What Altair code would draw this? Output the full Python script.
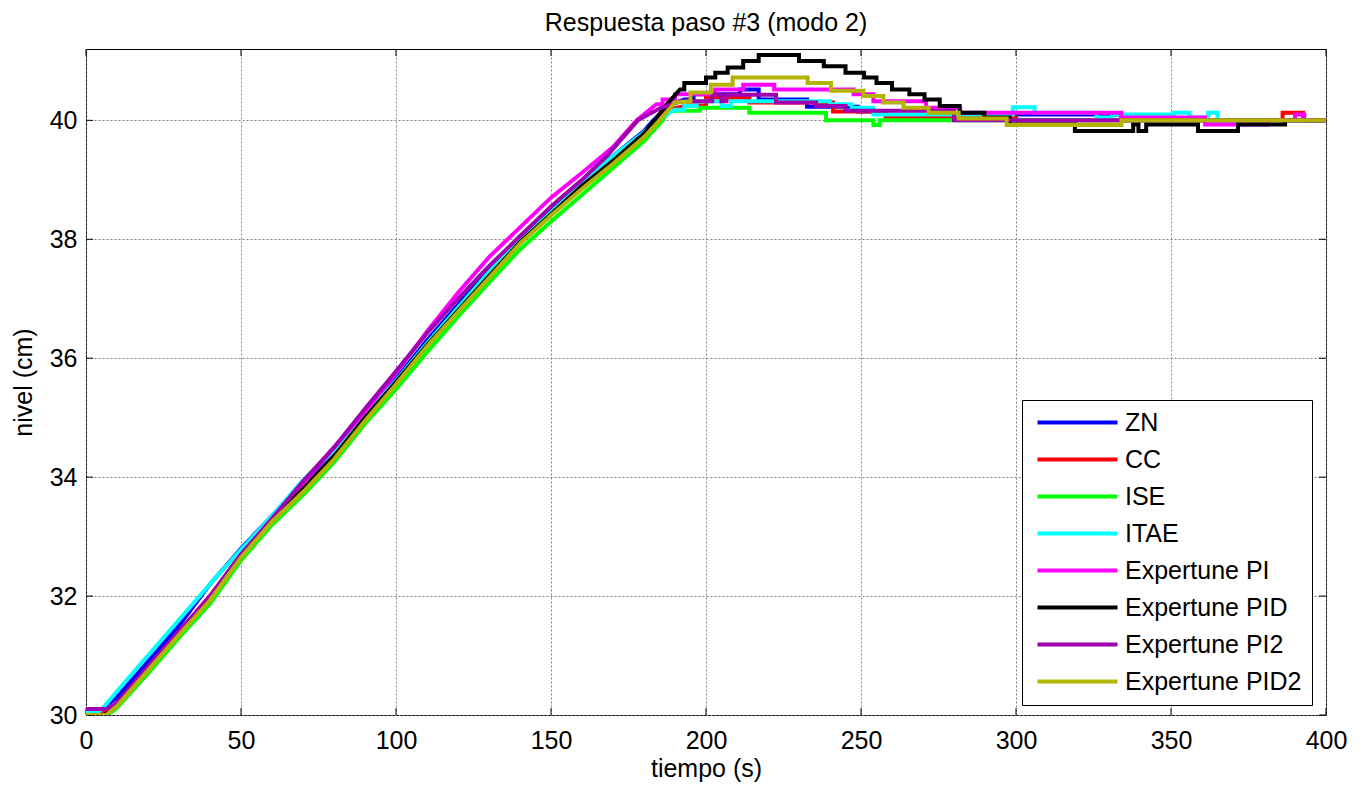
import altair as alt
import pandas as pd

series_names = ["ZN", "CC", "ISE", "ITAE", "Expertune PI", "Expertune PID",
                "Expertune PI2", "Expertune PID2"]
series_colors = ["#0000FF", "#FF0000", "#00FF00", "#00FFFF", "#FF00FF",
                 "#000000", "#A000B0", "#B3B300"]

x_ticks = [0, 50, 100, 150, 200, 250, 300, 350, 400]
y_ticks = [30, 32, 34, 36, 38, 40]

t_zn = [0, 5, 10, 20, 30, 40, 50, 60, 70, 80, 90, 100, 110, 120, 130, 140, 150, 160, 170, 180,
        183, 188, 193, 196, 196, 211, 211, 217, 217, 232.6, 232.6, 249, 249, 258, 258, 300, 300,
        334, 334, 400]
v_zn = [30.1, 30.1, 30.3, 30.9, 31.5, 32.2, 32.8, 33.35, 33.9, 34.45, 35.05, 35.65, 36.3, 36.9,
        37.5, 38.05, 38.5, 38.95, 39.4, 39.82, 40.0, 40.25, 40.35, 40.35, 40.44, 40.44, 40.52,
        40.52, 40.35, 40.35, 40.23, 40.23, 40.15, 40.15, 40.07, 40.07, 40.1, 40.1, 40.0, 40.0]

t_cc = [0, 6, 10, 20, 30, 40, 50, 60, 70, 80, 90, 100, 110, 120, 130, 140, 150, 160, 170, 180,
        184, 188, 194, 200, 200, 214, 214, 241, 241, 258, 258, 300, 300, 386, 386, 392.6, 392.6, 400]
v_cc = [30.05, 30.05, 30.2, 30.8, 31.4, 32.0, 32.7, 33.25, 33.8, 34.35, 35.0, 35.6, 36.22, 36.82,
        37.4, 37.95, 38.42, 38.88, 39.3, 39.75, 40.0, 40.18, 40.25, 40.25, 40.38, 40.38, 40.3,
        40.3, 40.15, 40.15, 40.05, 40.05, 40.0, 40.0, 40.13, 40.13, 40.0, 40.0]

t_ise = [0, 7, 10, 20, 30, 40, 50, 60, 70, 80, 90, 100, 110, 120, 130, 140, 150, 160, 170, 180,
         186, 188, 198, 198, 214, 214, 238.7, 238.7, 254, 254, 256, 256, 400]
v_ise = [30.0, 30.0, 30.12, 30.7, 31.3, 31.87, 32.6, 33.2, 33.7, 34.25, 34.9, 35.48, 36.1, 36.7,
         37.27, 37.83, 38.3, 38.75, 39.2, 39.65, 40.0, 40.16, 40.16, 40.21, 40.21, 40.13, 40.13,
         40.0, 40.0, 39.92, 39.92, 40.0, 40.0]

t_itae = [0, 4, 6, 10, 20, 30, 40, 50, 60, 70, 80, 90, 100, 110, 120, 130, 140, 150, 160, 170,
          180, 184, 190, 193, 193, 197, 197, 205, 205, 208, 208, 240, 240, 247, 247, 254, 254,
          299, 299, 306, 306, 326, 326, 331, 331, 351, 351, 356, 356, 362, 362, 365, 365, 400]
v_itae = [30.05, 30.05, 30.15, 30.4, 31.0, 31.6, 32.2, 32.78, 33.35, 33.95, 34.45, 35.05, 35.62,
          36.25, 36.85, 37.45, 38.0, 38.45, 38.95, 39.4, 39.8, 40.0, 40.18, 40.18, 40.24, 40.24,
          40.32, 40.32, 40.24, 40.24, 40.32, 40.32, 40.27, 40.27, 40.21, 40.21, 40.1, 40.1, 40.22,
          40.22, 40.13, 40.13, 40.05, 40.05, 40.1, 40.1, 40.13, 40.13, 40.05, 40.05, 40.13, 40.13,
          40.0, 40.0]

t_pi = [0, 7, 10, 20, 30, 40, 50, 60, 70, 80, 90, 100, 110, 120, 130, 140, 150, 160, 170, 177.6,
        184, 186, 186, 190, 190, 203, 203, 212, 212, 222, 222, 247.6, 247.6, 254, 254, 271, 271,
        282, 282, 334, 334, 361, 361, 381, 381, 390, 390, 393, 393, 400]
v_pi = [30.1, 30.1, 30.2, 30.8, 31.4, 32.0, 32.7, 33.3, 33.9, 34.5, 35.1, 35.75, 36.45, 37.1,
        37.7, 38.2, 38.7, 39.12, 39.55, 40.0, 40.27, 40.27, 40.35, 40.35, 40.44, 40.44, 40.52,
        40.52, 40.6, 40.6, 40.52, 40.52, 40.44, 40.44, 40.32, 40.32, 40.21, 40.21, 40.13, 40.13,
        40.05, 40.05, 39.93, 39.93, 40.0, 40.0, 40.1, 40.1, 40.0, 40.0]

t_pid = [0, 6, 10, 20, 30, 40, 50, 60, 70, 80, 90, 100, 110, 120, 130, 140, 150, 160, 170, 180,
         183.5, 187, 191.6, 193, 193, 200, 200, 203, 203, 207, 207, 212, 212, 217, 217, 230, 230,
         238, 238, 245, 245, 251, 251, 255, 255, 260, 260, 265.6, 265.6, 270.5, 270.5, 275.4,
         275.4, 281.8, 281.8, 289.8, 289.8, 298, 298, 319, 319, 337.8, 337.8, 339.5, 339.5, 342,
         342, 358.7, 358.7, 371.6, 371.6, 386.8, 386.8, 400]
v_pid = [30.0, 30.0, 30.2, 30.78, 31.38, 31.97, 32.67, 33.27, 33.8, 34.35, 35.0, 35.6, 36.22,
         36.8, 37.38, 37.95, 38.42, 38.9, 39.32, 39.78, 40.0, 40.25, 40.52, 40.52, 40.63, 40.63,
         40.72, 40.72, 40.8, 40.8, 40.89, 40.89, 41.0, 41.0, 41.1, 41.1, 41.0, 41.0, 40.91, 40.91,
         40.8, 40.8, 40.72, 40.72, 40.63, 40.63, 40.52, 40.52, 40.44, 40.44, 40.35, 40.35, 40.24,
         40.24, 40.13, 40.13, 40.05, 40.05, 39.93, 39.93, 39.82, 39.82, 39.93, 39.93, 39.82,
         39.82, 39.93, 39.93, 39.82, 39.82, 39.93, 39.93, 40.0, 40.0]

t_pi2 = [0, 7, 10, 20, 30, 40, 50, 60, 70, 80, 90, 100, 110, 120, 130, 140, 150, 160, 168, 178,
         185, 191.6, 202, 202, 205, 205, 206.6, 206.6, 222.6, 222.6, 235.5, 235.5, 245, 245, 280,
         280, 400]
v_pi2 = [30.1, 30.1, 30.2, 30.8, 31.4, 32.0, 32.7, 33.3, 33.93, 34.5, 35.15, 35.78, 36.42, 37.0,
         37.55, 38.05, 38.55, 39.0, 39.4, 40.0, 40.2, 40.32, 40.32, 40.43, 40.43, 40.32, 40.32,
         40.43, 40.43, 40.3, 40.3, 40.24, 40.24, 40.16, 40.16, 40.0, 40.0]

t_pid2 = [0, 6.5, 10, 20, 30, 40, 50, 60, 70, 80, 90, 100, 110, 120, 130, 140, 150, 160, 170, 180,
          185, 190, 195, 195, 201.6, 201.6, 208.6, 208.6, 232.8, 232.8, 240.3, 240.3, 250.8,
          250.8, 257.2, 257.2, 263.7, 263.7, 271.8, 271.8, 281.5, 281.5, 297, 297, 334, 334, 400]
v_pid2 = [30.0, 30.0, 30.15, 30.75, 31.35, 31.93, 32.65, 33.25, 33.75, 34.3, 34.95, 35.56, 36.2,
          36.78, 37.35, 37.93, 38.4, 38.85, 39.27, 39.72, 40.0, 40.3, 40.32, 40.47, 40.47, 40.6,
          40.6, 40.72, 40.72, 40.63, 40.63, 40.5, 40.5, 40.41, 40.41, 40.3, 40.3, 40.21, 40.21,
          40.13, 40.13, 40.03, 40.03, 39.92, 39.92, 40.0, 40.0]

all_t = [t_zn, t_cc, t_ise, t_itae, t_pi, t_pid, t_pi2, t_pid2]
all_v = [v_zn, v_cc, v_ise, v_itae, v_pi, v_pid, v_pi2, v_pid2]

rows = []
for k, (name, ts, vs) in enumerate(zip(series_names, all_t, all_v)):
    for i, (t, v) in enumerate(zip(ts, vs)):
        rows.append({"serie": name, "t": t, "v": v, "i": i, "k": k})
df = pd.DataFrame(rows)

W, H = 1240, 666
FONT = "Liberation Sans"
FS = 25
x_scale = alt.Scale(domain=[0, 400], nice=False, zero=False)
y_scale = alt.Scale(domain=[30, 41.2], nice=False, zero=False)
x_axis = alt.Axis(values=x_ticks, title="tiempo (s)", labelPadding=13, titlePadding=3,
                  labelFlush=False)
y_axis = alt.Axis(values=y_ticks, title="nivel (cm)", labelPadding=9, titlePadding=13,
                  labelFlush=False)

# inward tick marks (drawn first, beneath the data, as in the original)
xt = pd.DataFrame({"t": x_ticks})
yt = pd.DataFrame({"v": y_ticks})
tick_bottom = alt.Chart(xt).mark_rule(color="black", strokeWidth=1).encode(
    x=alt.X("t:Q", scale=x_scale, axis=x_axis), y=alt.value(H), y2=alt.value(H - 7))
tick_top = alt.Chart(xt).mark_rule(color="black", strokeWidth=1).encode(
    x=alt.X("t:Q", scale=x_scale, axis=x_axis), y=alt.value(0), y2=alt.value(7))
tick_left = alt.Chart(yt).mark_rule(color="black", strokeWidth=1).encode(
    y=alt.Y("v:Q", scale=y_scale, axis=y_axis), x=alt.value(0), x2=alt.value(7))
tick_right = alt.Chart(yt).mark_rule(color="black", strokeWidth=1).encode(
    y=alt.Y("v:Q", scale=y_scale, axis=y_axis), x=alt.value(W), x2=alt.value(W - 7))

lines = alt.Chart(df).mark_line(strokeWidth=4, strokeJoin="miter", strokeCap="butt", clip=True).encode(
    x=alt.X("t:Q", scale=x_scale, axis=x_axis),
    y=alt.Y("v:Q", scale=y_scale, axis=y_axis),
    color=alt.Color("serie:N",
                    scale=alt.Scale(domain=series_names, range=series_colors),
                    sort=series_names,
                    legend=alt.Legend(title=None, orient="none", legendX=936, legendY=351,
                                      symbolType="M-4,0H4", symbolSize=400, symbolStrokeWidth=4,
                                      symbolOffset=33, labelOffset=35, labelFontSize=FS,
                                      labelFont=FONT, labelColor="black", labelLimit=400,
                                      rowPadding=11, padding=10, strokeColor="black",
                                      fillColor="white")),
    detail="k:N",
    order="i:Q",
)

chart = alt.layer(tick_bottom, tick_top, tick_left, tick_right, lines).properties(
    width=W, height=H,
    title=alt.TitleParams("Respuesta paso #3 (modo 2)", fontSize=FS, fontWeight="normal",
                          font=FONT, color="black", anchor="middle", offset=13),
    padding={"left": 78, "top": 41, "right": 30, "bottom": 68},
    autosize=alt.AutoSizeParams(type="none"),
).configure(font=FONT, background="white").configure_view(
    stroke="black", strokeWidth=1
).configure_axis(
    labelFontSize=FS, titleFontSize=FS, labelFont=FONT, titleFont=FONT,
    labelColor="black", titleColor="black", titleFontWeight="normal",
    ticks=False, domain=False, grid=True, gridColor="#808080", gridDash=[2, 2],
    gridWidth=1, gridOpacity=1,
)

chart.save("out.html", embed_options={"renderer": "svg", "actions": False})
